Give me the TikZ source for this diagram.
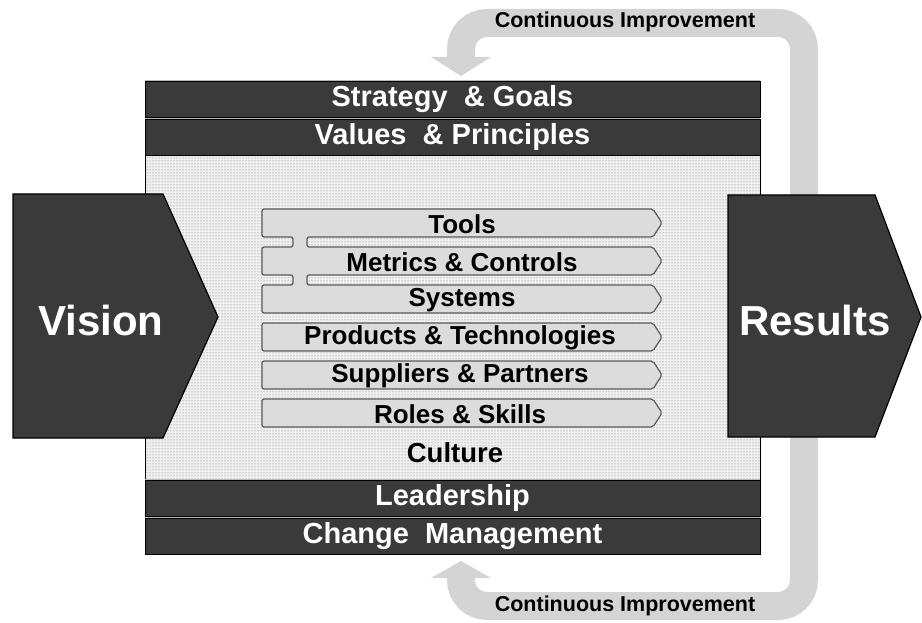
\documentclass[tikz,border=0pt]{standalone}
\usepackage{fontspec}
\setmainfont{Liberation Sans}
\usetikzlibrary{patterns}
\definecolor{darkfill}{HTML}{3A3A3A}
\definecolor{loopgray}{HTML}{D4D4D4}
\definecolor{barfill}{HTML}{DCDCDC}
\definecolor{barline}{HTML}{5A5A5A}
\begin{document}
\begin{tikzpicture}[x=1pt,y=-1pt,
 darkbar/.style={fill=darkfill,draw=black,line width=0.8pt,minimum width=615pt,minimum height=36pt,inner sep=0pt,text=white,font=\fontsize{29}{31}\selectfont\bfseries},
 chev/.style={fill=darkfill,draw=black,line width=1.2pt},
 bigtext/.style={text=white,font=\fontsize{42}{44}\selectfont\bfseries},
 innerbar/.style={fill=barfill,draw=barline,line width=1.2pt,rounded corners=2pt},
 innertext/.style={font=\fontsize{26}{28}\selectfont\bfseries,text=black,inner sep=0pt},
 looparrow/.style={draw=loopgray,line width=28pt,rounded corners=26pt},
 loophead/.style={fill=loopgray},
 looptext/.style={font=\fontsize{21.5}{23}\selectfont\bfseries,inner sep=0pt},
 dotbox/.style={draw=black,line width=0.8pt,preaction={fill=gray!12},pattern=dots,pattern color=gray!85!black}
]
\useasboundingbox (0,0) rectangle (922,623);
% continuous improvement loops
\draw[looparrow] (804,330) -- (804,23) -- (461,23) -- (461,58);
\fill[loophead] (431,57) -- (491,57) -- (461,76) -- cycle;
\draw[looparrow] (804,300) -- (804,606) -- (461,606) -- (461,577);
\fill[loophead] (431,578) -- (491,578) -- (461,561) -- cycle;
\node[looptext] (ci1) at (625,22) {Continuous Improvement};
\node[looptext] (ci2) at (625,606) {Continuous Improvement};
% main box
\fill[gray!55] (145,80) rectangle (760,155);
\node[darkbar] (strategy) at (452.5,99) {Strategy\ \ \& Goals};
\node[darkbar] (values) at (452.5,137.5) {Values \ \& Principles};
\draw[dotbox] (145,155.5) rectangle (760,479);
\fill[gray!55] (145,479) rectangle (760,554);
\node[darkbar] (leadership) at (452.5,498) {Leadership};
\node[darkbar] (change) at (452.5,536.5) {Change \ Management};
\node[font=\fontsize{27.5}{29}\selectfont\bfseries,inner sep=0pt] (culture) at (455,453) {Culture};
% chevrons
\draw[chev] (13,194) -- (163,194) -- (218,317) -- (163,438) -- (13,438) -- cycle;
\node[bigtext] (vision) at (101,320) {Vision};
\draw[chev] (728,195) -- (875,195) -- (921,317) -- (875,437) -- (728,437) -- cycle;
\node[bigtext] (results) at (815,320) {Results};
% inner bars
\draw[innerbar] (262,209) -- (653,209) -- (662,223) -- (653,237) -- (307,237) -- (307,247) -- (653,247) -- (662,261) -- (653,275) -- (307,275) -- (307,285) -- (653,285) -- (662,299) -- (653,313) -- (262,313) -- (262,285) -- (293,285) -- (293,275) -- (262,275) -- (262,247) -- (293,247) -- (293,237) -- (262,237) -- cycle;
\draw[innerbar] (262,323) -- (653,323) -- (662,337) -- (653,351) -- (262,351) -- cycle;
\draw[innerbar] (262,361) -- (653,361) -- (662,375) -- (653,389) -- (262,389) -- cycle;
\draw[innerbar] (262,399) -- (653,399) -- (662,413) -- (653,427) -- (262,427) -- cycle;
\node[innertext] (tools) at (462,224) {Tools};
\node[innertext] (metrics) at (462,262) {Metrics \& Controls};
\node[innertext] (systems) at (462,300) {Systems};
\node[innertext] (products) at (460,338) {Products \& Technologies};
\node[innertext] (suppliers) at (460,376) {Suppliers \& Partners};
\node[innertext] (roles) at (460,414) {Roles \& Skills};
\end{tikzpicture}
\end{document}
